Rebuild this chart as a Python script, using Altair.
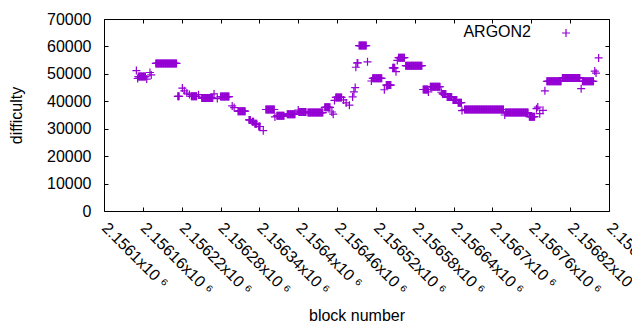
import altair as alt
import pandas as pd

# ---- data (runs of equal difficulty) ----
run_start = [2156150, 2156152, 2156153, 2156166, 2156171, 2156173, 2156180, 2156214,
             2156221, 2156224, 2156228, 2156232, 2156235, 2156246, 2156251, 2156270,
             2156275, 2156280, 2156298, 2156301, 2156307, 2156324, 2156329, 2156333,
             2156339, 2156346, 2156350, 2156364, 2156367, 2156383, 2156400, 2156401,
             2156415, 2156441, 2156452, 2156454, 2156456, 2156458, 2156470, 2156474,
             2156479, 2156484, 2156486, 2156488, 2156489, 2156491, 2156494, 2156507,
             2156513, 2156515, 2156533, 2156536, 2156546, 2156551, 2156553, 2156555,
             2156566, 2156593, 2156601, 2156604, 2156621, 2156623, 2156630, 2156639,
             2156647, 2156653, 2156657, 2156719, 2156720, 2156757, 2156768, 2156770,
             2156773, 2156778, 2156781, 2156784, 2156808, 2156837, 2156839, 2156858,
             2156860, 2156864]
run_end = [2156150, 2156152, 2156164, 2156166, 2156171, 2156173, 2156212, 2156216,
           2156221, 2156224, 2156228, 2156232, 2156243, 2156246, 2156268, 2156270,
           2156275, 2156293, 2156298, 2156301, 2156318, 2156326, 2156331, 2156336,
           2156341, 2156346, 2156363, 2156364, 2156378, 2156395, 2156400, 2156412,
           2156438, 2156449, 2156452, 2156454, 2156456, 2156467, 2156470, 2156474,
           2156479, 2156484, 2156486, 2156488, 2156489, 2156492, 2156505, 2156507,
           2156513, 2156529, 2156533, 2156543, 2156549, 2156551, 2156553, 2156564,
           2156591, 2156600, 2156601, 2156619, 2156621, 2156628, 2156637, 2156645,
           2156652, 2156653, 2156717, 2156719, 2156755, 2156765, 2156768, 2156770,
           2156773, 2156778, 2156781, 2156806, 2156835, 2156837, 2156856, 2156858,
           2156860, 2156864]
run_value = [51200, 48300, 49000, 48100, 50500, 49600, 53800, 41800,
             44800, 43800, 43000, 42500, 41800, 42400, 41200, 42700,
             41000, 41700, 38300, 37700, 36400, 33200, 32500, 31800,
             30800, 29300, 37000, 34300, 34700, 35300, 36800, 36100,
             35900, 37800, 36100, 35300, 40300, 41400, 40500, 39400,
             38600, 41600, 43400, 45000, 52400, 54000, 60300, 54400,
             47400, 48400, 44200, 45900, 52200, 50800, 54900, 55900,
             53000, 44300, 43400, 45300, 43300, 42700, 41600, 40500,
             39500, 36600, 37000, 35000, 35900, 34400, 37300, 37900,
             35500, 36700, 43800, 47300, 48500, 44600, 47300, 51000,
             50300, 55800]

series_name = ["ARGON2"]
x_ticks = [2156100, 2156160, 2156220, 2156280, 2156340, 2156400, 2156460,
           2156520, 2156580, 2156640, 2156700, 2156760, 2156820, 2156880]
y_ticks = [0, 10000, 20000, 30000, 40000, 50000, 60000, 70000]

blocks, values = [], []
for s, e, v in zip(run_start, run_end, run_value):
    for b in range(s, e + 1):
        blocks.append(b)
        values.append(v)
df = pd.DataFrame({"block": blocks, "difficulty": values})
legend_df = pd.DataFrame({"name": series_name})

PURPLE = "#9400d3"
PLUS = "M-1,0H1M0,-1V1"
FONT = "Liberation Sans"

xscale = alt.Scale(domain=[2156100, 2156880], nice=False, zero=False)
yscale = alt.Scale(domain=[0, 70000], nice=False)

points = alt.Chart(df).mark_point(
    shape=PLUS, filled=False, size=64, strokeWidth=1.2, color=PURPLE, opacity=1
).encode(
    x=alt.X("block:Q", scale=xscale, axis=alt.Axis(
        orient="bottom", values=x_ticks,
        labelExpr="format(datum.value/1000000, '.6~f') + 'x10 ⁶'",
        labelAngle=45, labelAlign="left", labelBaseline="middle",
        labelPadding=14, offset=-4, tickSize=4, domain=False, grid=False,
        labelOverlap=False, labelFlush=False, labelBound=False,
        title="block number", titleY=113, titleBaseline="alphabetic")),
    y=alt.Y("difficulty:Q", scale=yscale, axis=alt.Axis(
        orient="left", values=y_ticks, format="d", labelPadding=13,
        offset=-4, tickSize=4, domain=False, grid=False,
        title="difficulty", titleX=-92, titleBaseline="middle")),
)

mirror = alt.Chart(df).mark_point(opacity=0).encode(
    x=alt.X("block:Q", scale=xscale, axis=alt.Axis(
        orient="top", values=x_ticks, labels=False, offset=-4, tickSize=4,
        domain=False, grid=False, title=None)),
    y=alt.Y("difficulty:Q", scale=yscale, axis=alt.Axis(
        orient="right", values=y_ticks, labels=False, offset=-4, tickSize=4,
        domain=False, grid=False, title=None)),
)

leg_text = alt.Chart(legend_df).mark_text(
    align="right", baseline="middle", fontSize=16, font=FONT, color="black"
).encode(x=alt.value(427), y=alt.value(13), text="name:N")

leg_mark = alt.Chart(legend_df).mark_point(
    shape=PLUS, filled=False, size=64, strokeWidth=1.2, color=PURPLE, opacity=1
).encode(x=alt.value(462), y=alt.value(14))

chart = alt.layer(points, mirror, leg_text, leg_mark).resolve_axis(
    x="independent", y="independent"
).properties(
    width=505, height=192,
    padding={"left": 96, "top": 11, "right": 23, "bottom": 111},
    autosize=alt.AutoSizeParams(type="none"),
).configure_view(
    stroke="black", strokeWidth=1
).configure_axis(
    labelFont=FONT, labelFontSize=16, labelColor="black",
    titleFont=FONT, titleFontSize=16, titleFontWeight="normal", titleColor="black",
    tickColor="black", tickWidth=1,
)

chart.save("out.html", embed_options={"renderer": "svg", "actions": False})
